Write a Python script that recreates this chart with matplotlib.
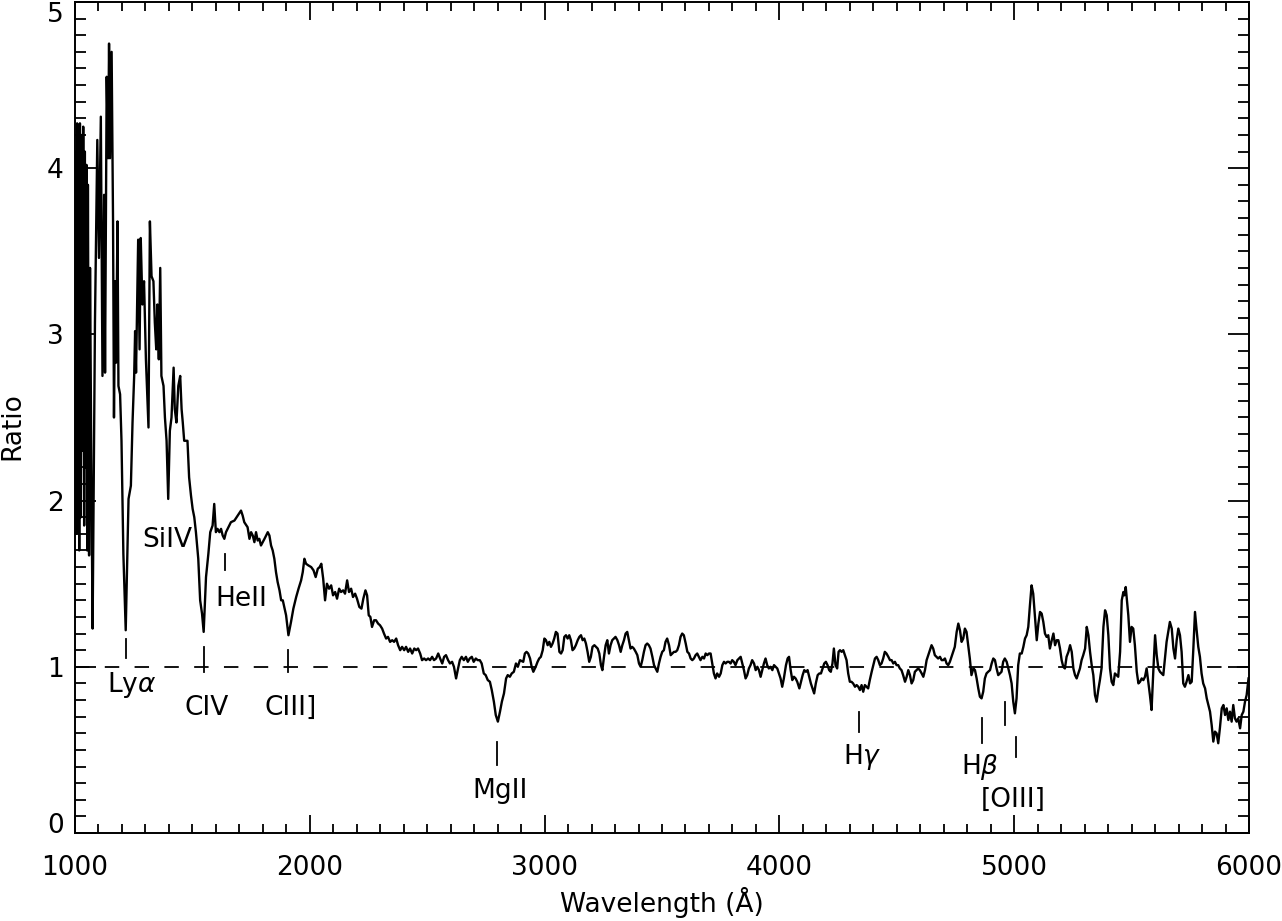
import numpy as np
import matplotlib.pyplot as plt
from matplotlib.ticker import MultipleLocator


# ratio spectrum, split in chunks by wavelength range
wl_uv = [1001, 1003, 1006, 1009, 1012, 1015, 1018, 1021, 1025, 1028,
         1032, 1035, 1039, 1042, 1046, 1049, 1052, 1055, 1060, 1064,
         1070, 1075, 1085, 1095, 1102, 1110, 1117, 1124, 1128, 1135,
         1141, 1145, 1149, 1156, 1162, 1166, 1171, 1175, 1181, 1185,
         1192, 1198, 1206, 1216, 1228, 1238, 1245, 1252, 1256, 1260,
         1269, 1275, 1280, 1287, 1294, 1302, 1313, 1319, 1326, 1334,
         1340, 1346, 1351, 1357, 1363, 1368, 1377, 1383, 1390, 1397,
         1404, 1411, 1420, 1425, 1432, 1440, 1448, 1454, 1459, 1465,
         1474, 1479, 1486, 1494, 1501, 1508, 1515, 1525, 1533, 1541,
         1548, 1558, 1568, 1576, 1586, 1593, 1600, 1607, 1615, 1622,
         1629, 1636, 1643, 1650, 1664, 1679, 1693, 1707, 1714, 1721,
         1735, 1743, 1750, 1757, 1764, 1771, 1778, 1785, 1792, 1807,
         1821, 1828, 1835, 1842, 1849, 1856, 1863, 1871, 1878]
ratio_uv = [3.00, 4.10, 1.80, 4.27, 2.10, 4.00, 1.70, 4.27, 1.90, 4.20,
            2.30, 4.25, 1.85, 4.10, 2.20, 4.02, 1.70, 3.90, 1.67, 3.40,
            2.10, 1.23, 3.07, 4.17, 3.46, 4.31, 2.75, 3.84, 2.77, 4.55,
            4.06, 4.75, 4.06, 4.70, 3.68, 2.50, 3.32, 2.83, 3.68, 2.69,
            2.64, 2.36, 1.68, 1.22, 2.01, 2.09, 2.47, 2.75, 3.02, 2.77,
            3.57, 2.91, 3.58, 3.18, 3.32, 2.85, 2.44, 3.68, 3.35, 3.32,
            3.07, 2.91, 3.18, 2.85, 3.40, 2.75, 2.69, 2.50, 2.36, 2.01,
            2.42, 2.50, 2.80, 2.55, 2.47, 2.69, 2.75, 2.55, 2.47, 2.36,
            2.36, 2.36, 2.14, 2.03, 1.95, 1.90, 1.81, 1.65, 1.40, 1.32,
            1.21, 1.54, 1.68, 1.81, 1.85, 1.98, 1.81, 1.83, 1.81, 1.83,
            1.79, 1.77, 1.81, 1.83, 1.87, 1.88, 1.91, 1.94, 1.91, 1.87,
            1.84, 1.77, 1.81, 1.79, 1.75, 1.81, 1.76, 1.77, 1.73, 1.77,
            1.81, 1.79, 1.73, 1.70, 1.65, 1.57, 1.51, 1.46, 1.40]

wl_nuv = [1885, 1899, 1909, 1920, 1930, 1942, 1952, 1963, 1970, 1977,
          1984, 1994, 2006, 2016, 2025, 2034, 2042, 2049, 2057, 2065,
          2073, 2082, 2091, 2099, 2108, 2116, 2125, 2133, 2142, 2150,
          2159, 2167, 2176, 2184, 2193, 2201, 2211, 2220, 2228, 2237,
          2244, 2251, 2258, 2265, 2274, 2282, 2291, 2299, 2308, 2316,
          2325, 2333, 2342, 2351, 2359, 2368, 2376, 2385, 2393, 2402,
          2410, 2419, 2427, 2436, 2445, 2453, 2461, 2470, 2478, 2487,
          2495, 2504, 2512, 2521, 2529, 2538, 2547, 2555, 2564, 2572,
          2580, 2589, 2597, 2606, 2614, 2623, 2630, 2639, 2647, 2656,
          2665, 2673, 2681, 2690, 2698, 2707, 2715, 2724, 2732, 2741,
          2749, 2758, 2767, 2775, 2784, 2792, 2801, 2810, 2818, 2827,
          2836, 2843, 2852, 2860, 2869, 2878, 2886]
ratio_nuv = [1.40, 1.31, 1.19, 1.27, 1.35, 1.42, 1.47, 1.52, 1.57, 1.65,
             1.62, 1.61, 1.60, 1.58, 1.54, 1.59, 1.60, 1.62, 1.53, 1.40,
             1.50, 1.47, 1.49, 1.43, 1.45, 1.41, 1.47, 1.45, 1.46, 1.44,
             1.52, 1.45, 1.47, 1.42, 1.44, 1.41, 1.36, 1.35, 1.41, 1.46,
             1.43, 1.31, 1.30, 1.24, 1.28, 1.28, 1.26, 1.25, 1.23, 1.20,
             1.17, 1.18, 1.15, 1.16, 1.15, 1.17, 1.13, 1.10, 1.12, 1.10,
             1.12, 1.09, 1.11, 1.08, 1.11, 1.10, 1.11, 1.08, 1.04, 1.05,
             1.04, 1.05, 1.04, 1.06, 1.04, 1.05, 1.08, 1.05, 1.02, 1.06,
             1.07, 1.04, 1.02, 1.03, 1.00, 0.93, 0.98, 1.04, 1.06, 1.04,
             1.06, 1.03, 1.05, 1.06, 1.03, 1.05, 1.04, 1.04, 1.02, 0.96,
             0.95, 0.92, 0.91, 0.86, 0.79, 0.71, 0.67, 0.73, 0.79, 0.84,
             0.93, 0.95, 0.94, 0.96, 0.97, 1.02, 1.00]

wl_blue = [2895, 2909, 2916, 2923, 2930, 2938, 2945, 2952, 2962, 2970,
           2977, 2984, 2992, 2999, 3006, 3013, 3020, 3027, 3034, 3041,
           3048, 3055, 3063, 3070, 3077, 3084, 3091, 3098, 3105, 3112,
           3119, 3126, 3133, 3141, 3148, 3155, 3162, 3169, 3176, 3183,
           3190, 3197, 3204, 3212, 3219, 3226, 3233, 3240, 3246, 3253,
           3260, 3267, 3274, 3281, 3288, 3295, 3302, 3310, 3317, 3324,
           3331, 3338, 3345, 3352, 3359, 3366, 3373, 3380, 3388, 3395,
           3402, 3409, 3416, 3423, 3430, 3437, 3444, 3451, 3459, 3466,
           3473, 3480, 3487, 3494, 3501, 3508, 3515, 3522, 3530, 3537,
           3544, 3551, 3558, 3565, 3572, 3579, 3586, 3593, 3601, 3608,
           3615, 3622, 3629, 3636, 3643, 3650, 3657, 3664, 3672, 3679,
           3686, 3693, 3700, 3707, 3714, 3721, 3728, 3735, 3743, 3750,
           3757, 3764, 3771, 3778, 3785, 3792, 3799, 3806, 3813, 3821,
           3828, 3835, 3842, 3849, 3856, 3863, 3870, 3877, 3884, 3892,
           3899, 3906, 3913, 3920, 3927, 3934, 3941, 3948, 3955, 3962,
           3970, 3977, 3984, 3991]
ratio_blue = [1.04, 1.03, 1.08, 1.09, 1.08, 1.05, 1.00, 0.97, 1.00, 1.03,
              1.05, 1.06, 1.10, 1.17, 1.16, 1.13, 1.15, 1.12, 1.14, 1.17,
              1.21, 1.20, 1.09, 1.08, 1.10, 1.18, 1.19, 1.17, 1.19, 1.16,
              1.10, 1.11, 1.13, 1.16, 1.18, 1.19, 1.16, 1.17, 1.14, 1.09,
              1.03, 1.06, 1.12, 1.13, 1.12, 1.11, 1.08, 1.01, 0.98, 1.06,
              1.13, 1.16, 1.08, 1.13, 1.16, 1.17, 1.18, 1.16, 1.13, 1.09,
              1.13, 1.16, 1.20, 1.21, 1.16, 1.11, 1.12, 1.11, 1.09, 1.07,
              1.02, 1.00, 1.04, 1.09, 1.13, 1.14, 1.13, 1.11, 1.06, 1.01,
              0.99, 0.97, 1.02, 1.06, 1.09, 1.10, 1.15, 1.17, 1.13, 1.07,
              1.08, 1.09, 1.09, 1.10, 1.13, 1.18, 1.20, 1.19, 1.14, 1.09,
              1.08, 1.05, 1.04, 1.05, 1.07, 1.08, 1.06, 1.04, 1.06, 1.05,
              1.08, 1.07, 1.08, 1.08, 1.02, 0.96, 0.93, 0.96, 0.94, 0.96,
              1.01, 1.03, 1.02, 1.03, 1.03, 1.02, 1.04, 1.03, 1.01, 1.04,
              1.05, 1.06, 1.02, 0.98, 0.93, 0.95, 0.99, 1.01, 1.04, 1.02,
              0.98, 1.00, 0.98, 0.94, 0.98, 1.02, 1.05, 1.01, 0.99, 1.00,
              0.98, 1.01, 1.00, 0.99]

wl_vis = [4005, 4012, 4019, 4028, 4035, 4041, 4048, 4055, 4062, 4069,
          4076, 4085, 4092, 4099, 4106, 4113, 4120, 4127, 4134, 4141,
          4148, 4155, 4163, 4170, 4177, 4184, 4191, 4198, 4205, 4212,
          4219, 4226, 4232, 4239, 4246, 4252, 4258, 4265, 4272, 4279,
          4286, 4293, 4300, 4307, 4314, 4322, 4329, 4336, 4343, 4350,
          4357, 4364, 4371, 4378, 4385, 4393, 4400, 4407, 4414, 4421,
          4428, 4435, 4442, 4449, 4456, 4464, 4471, 4478, 4485, 4492,
          4499, 4506, 4513, 4520, 4527, 4535, 4542, 4549, 4556, 4563,
          4570, 4577, 4584, 4591, 4598, 4606, 4613, 4620, 4627, 4634,
          4641, 4648, 4655, 4662, 4669, 4676, 4684, 4691, 4698, 4705,
          4712, 4719, 4726, 4733, 4740, 4747, 4755, 4762, 4769, 4776,
          4783, 4790, 4797, 4804, 4811, 4818, 4826, 4833, 4840, 4847,
          4854, 4861, 4868, 4875, 4882, 4889, 4897, 4904, 4911, 4918,
          4925, 4932, 4939, 4946, 4953, 4960, 4968, 4975, 4982, 4989,
          4996, 5003, 5010, 5017, 5024]
ratio_vis = [0.93, 0.88, 0.93, 1.01, 1.05, 1.06, 0.98, 0.92, 0.94, 0.93,
             0.91, 0.87, 0.91, 0.95, 0.98, 0.97, 0.98, 0.94, 0.90, 0.87,
             0.84, 0.90, 0.95, 0.96, 0.96, 0.99, 1.02, 1.03, 1.01, 0.98,
             0.97, 1.02, 1.11, 1.01, 0.99, 1.09, 1.10, 1.09, 1.10, 1.07,
             1.04, 0.96, 0.91, 0.91, 0.90, 0.88, 0.89, 0.88, 0.86, 0.89,
             0.85, 0.89, 0.88, 0.87, 0.92, 0.97, 1.01, 1.05, 1.06, 1.04,
             1.01, 1.02, 1.05, 1.09, 1.08, 1.06, 1.04, 1.04, 1.02, 1.03,
             1.01, 1.01, 0.99, 0.98, 0.95, 0.91, 0.94, 0.98, 0.95, 0.90,
             0.92, 0.97, 0.98, 0.99, 0.98, 0.96, 0.94, 0.98, 1.04, 1.07,
             1.10, 1.13, 1.11, 1.07, 1.06, 1.05, 1.06, 1.04, 1.04, 1.05,
             1.02, 1.01, 1.03, 1.06, 1.09, 1.12, 1.21, 1.26, 1.22, 1.15,
             1.17, 1.23, 1.21, 1.13, 1.05, 0.95, 0.99, 0.98, 0.93, 0.87,
             0.82, 0.81, 0.85, 0.93, 0.96, 0.97, 0.98, 1.02, 1.05, 1.04,
             0.99, 0.95, 0.96, 0.97, 1.03, 1.05, 1.03, 0.99, 0.95, 0.90,
             0.79, 0.72, 0.81, 1.01, 1.08]

wl_red = [5032, 5039, 5046, 5053, 5060, 5067, 5074, 5081, 5089, 5096,
          5103, 5110, 5117, 5124, 5131, 5138, 5145, 5152, 5160, 5167,
          5174, 5181, 5188, 5195, 5202, 5209, 5216, 5223, 5231, 5238,
          5245, 5252, 5259, 5266, 5273, 5280, 5287, 5294, 5302, 5309,
          5316, 5323, 5330, 5337, 5344, 5351, 5358, 5365, 5372, 5380,
          5387, 5394, 5401, 5408, 5415, 5422, 5429, 5436, 5443, 5451,
          5458, 5465, 5469, 5475, 5479, 5486, 5493, 5500, 5507, 5514,
          5522, 5529, 5536, 5543, 5550, 5557, 5564, 5571, 5578, 5585,
          5593, 5600, 5607, 5614, 5621, 5628, 5635, 5642, 5649, 5656,
          5663, 5671, 5678, 5685, 5692, 5699, 5706, 5713, 5720, 5727,
          5734, 5742, 5749, 5756, 5763, 5770, 5777, 5784, 5791, 5798,
          5805, 5813, 5820, 5827, 5834, 5841, 5848, 5855, 5862, 5869,
          5876, 5884, 5891, 5898, 5905, 5912, 5919, 5926, 5933, 5940,
          5947, 5954, 5962, 5969, 5976, 5983, 5990, 5998]
ratio_red = [1.08, 1.12, 1.17, 1.19, 1.24, 1.37, 1.49, 1.44, 1.29, 1.16,
             1.26, 1.33, 1.32, 1.27, 1.20, 1.18, 1.19, 1.11, 1.16, 1.20,
             1.13, 1.16, 1.16, 1.11, 1.04, 1.00, 0.99, 1.06, 1.09, 1.13,
             1.09, 0.99, 0.95, 0.93, 0.96, 0.99, 1.04, 1.07, 1.11, 1.24,
             1.19, 1.09, 1.01, 0.95, 0.83, 0.79, 0.86, 0.92, 0.99, 1.24,
             1.34, 1.31, 1.19, 0.99, 0.91, 0.89, 0.96, 0.95, 0.94, 1.09,
             1.40, 1.45, 1.43, 1.48, 1.42, 1.31, 1.15, 1.24, 1.23, 1.13,
             0.97, 0.90, 0.91, 0.93, 0.92, 0.94, 0.99, 0.91, 0.83, 0.74,
             0.99, 1.19, 1.07, 0.99, 0.97, 0.96, 0.95, 1.05, 1.15, 1.21,
             1.27, 1.23, 1.11, 1.05, 1.16, 1.23, 1.19, 1.09, 0.90, 0.88,
             0.91, 0.95, 0.90, 0.91, 1.11, 1.33, 1.22, 1.12, 1.06, 0.96,
             0.90, 0.87, 0.81, 0.77, 0.73, 0.65, 0.55, 0.61, 0.60, 0.54,
             0.63, 0.75, 0.77, 0.71, 0.75, 0.68, 0.73, 0.67, 0.77, 0.69,
             0.67, 0.69, 0.63, 0.71, 0.73, 0.79, 0.83, 0.93]

# emission line markers: rest wavelength and the span of the little tick
line_wl = [1216, 1549, 1640, 1909, 2798, 4340, 4861, 4959, 5007]
tick_lo = [1.05, 0.97, 1.58, 0.97, 0.41, 0.61, 0.54, 0.65, 0.46]
tick_hi = [1.17, 1.12, 1.68, 1.10, 0.55, 0.73, 0.69, 0.79, 0.58]

label_text = [r'Ly$\alpha$', 'SiIV', 'CIV', 'HeII', 'CIII]', 'MgII',
              r'H$\gamma$', r'H$\beta$', '[OIII]']
label_wl = [1241, 1392, 1559, 1710, 1918, 2809, 4354, 4856, 4995]
label_r = [0.89, 1.76, 0.75, 1.41, 0.75, 0.25, 0.46, 0.40, 0.20]

ratio_ticks = [0, 1, 2, 3, 4, 5]


def main():
    wl = np.concatenate([wl_uv, wl_nuv, wl_blue, wl_vis, wl_red])
    ratio = np.concatenate([ratio_uv, ratio_nuv, ratio_blue, ratio_vis, ratio_red])

    plt.rcParams['font.family'] = ['DejaVu Sans']
    plt.rcParams['mathtext.fontset'] = 'dejavusans'
    fs = 19

    fig = plt.figure(figsize=(12.82, 9.21), dpi=100)
    ax = fig.add_axes([75 / 1282, 88 / 921, 1174 / 1282, 831 / 921])

    ax.plot(wl, ratio, color='black', lw=1.7)
    ax.axhline(1.0, color='black', lw=1.3, dashes=(8, 8.5))

    for x, lo, hi in zip(line_wl, tick_lo, tick_hi):
        ax.plot([x, x], [lo, hi], color='black', lw=1.3)

    for txt, x, y in zip(label_text, label_wl, label_r):
        ax.text(x, y, txt, ha='center', va='center', fontsize=fs)

    ax.set_xlim(1000, 6000)
    ax.set_ylim(0, 5)
    ax.xaxis.set_major_locator(MultipleLocator(1000))
    ax.xaxis.set_minor_locator(MultipleLocator(100))
    ax.set_yticks(ratio_ticks)
    ax.yaxis.set_minor_locator(MultipleLocator(0.1))

    ax.tick_params(which='both', direction='in', top=True, right=True,
                   width=1.3, labelsize=fs)
    ax.tick_params(axis='x', which='major', length=13, pad=16)
    ax.tick_params(axis='x', which='minor', length=6.5)
    ax.tick_params(axis='y', which='major', length=15, pad=8)
    ax.tick_params(axis='y', which='minor', length=8)
    for sp in ax.spines.values():
        sp.set_linewidth(1.4)

    # IDL-like placement of the end labels on the y axis
    yticks = ax.yaxis.get_major_ticks()
    yticks[0].label1.set_va('baseline')
    yticks[-1].label1.set_va('top')

    ax.set_xlabel('Wavelength (Å)', fontsize=fs, va='center')
    ax.xaxis.set_label_coords(0.5, -0.084)
    ax.set_ylabel('Ratio', fontsize=fs, va='center')
    ax.yaxis.set_label_coords(-0.053, 0.49)

    fig.savefig('out.png', dpi=100)


if __name__ == '__main__':
    main()
